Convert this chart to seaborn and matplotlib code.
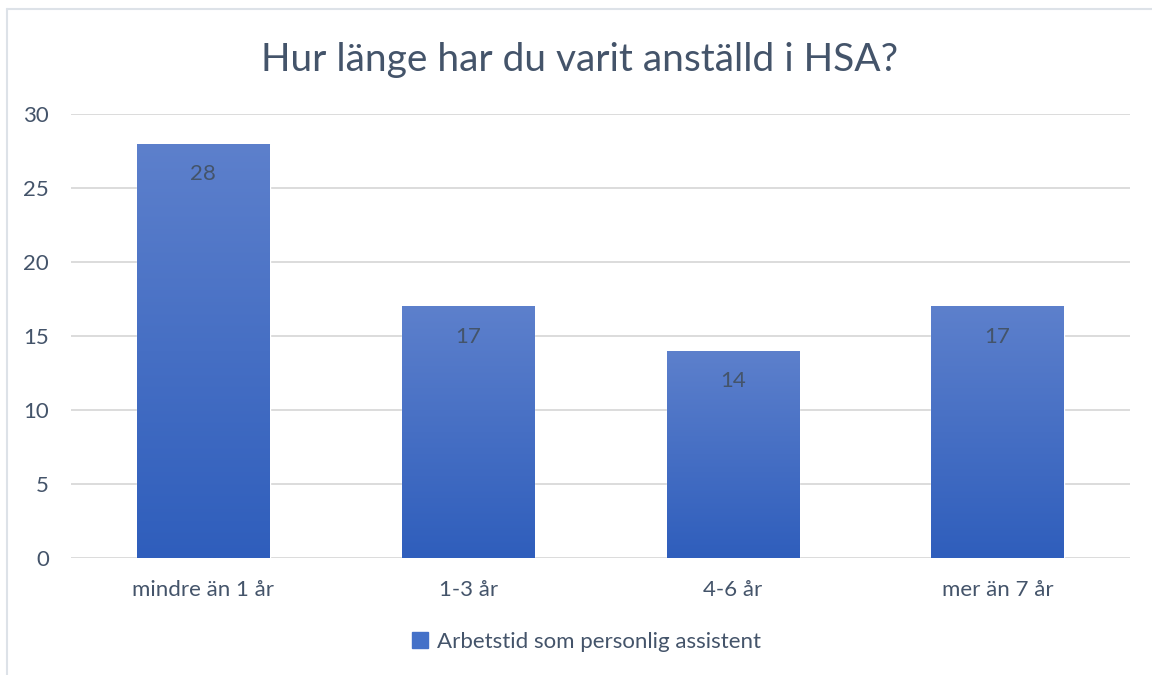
"""
Bar chart: how long respondents have been employed at HSA.

Writes: out.png
"""

import matplotlib.pyplot as plt
import numpy as np
import pandas as pd
import seaborn as sns
from matplotlib.colors import LinearSegmentedColormap
from matplotlib.patches import Rectangle

TITLE = "Hur länge har du varit anställd i HSA?"
SERIES = "Arbetstid som personlig assistent"
CATEGORIES = ["mindre än 1 år", "1-3 år", "4-6 år", "mer än 7 år"]
VALUES = [28, 17, 14, 17]
Y_TICKS = [0, 5, 10, 15, 20, 25, 30]

TEXT = "#44546A"
GRID = "#D9D9D9"
TOP_BLUE = "#5D80CC"
BOTTOM_BLUE = "#2F5EBC"

sns.set_theme(style="white")
plt.rcParams["font.family"] = ["Lato", "DejaVu Sans"]


def main() -> None:
    df = pd.DataFrame({"category": CATEGORIES, "value": VALUES})

    fig = plt.figure(figsize=(11.52, 6.75), dpi=100)
    ax = fig.add_axes([71 / 1152, 1 - 558 / 675, (1130 - 71) / 1152, (558 - 114) / 675])

    sns.barplot(data=df, x="category", y="value", color=BOTTOM_BLUE,
                width=0.5, saturation=1, ax=ax, zorder=2)

    # vertical gradient fill clipped to each bar
    cmap = LinearSegmentedColormap.from_list("bar", [BOTTOM_BLUE, TOP_BLUE])
    grad = np.linspace(0, 1, 256).reshape(-1, 1)
    for bar in ax.patches:
        x0, y0 = bar.get_x(), bar.get_y()
        w, h = bar.get_width(), bar.get_height()
        im = ax.imshow(grad, cmap=cmap, origin="lower", aspect="auto",
                       extent=(x0, x0 + w, y0, y0 + h), zorder=3)
        im.set_clip_path(bar)
    ax.set_xlim(-0.5, len(CATEGORIES) - 0.5)
    ax.set_ylim(0, 30)

    ax.bar_label(ax.containers[0], labels=[str(v) for v in VALUES],
                 padding=-29, fontsize=16, color=TEXT, zorder=4)

    ax.set_yticks(Y_TICKS)
    ax.yaxis.grid(True, color=GRID, linewidth=1.3, zorder=0)
    ax.set_axisbelow(True)
    for side in ax.spines:
        ax.spines[side].set_visible(False)
    ax.tick_params(axis="both", length=0, labelsize=16, labelcolor=TEXT)
    ax.tick_params(axis="y", pad=16)
    ax.tick_params(axis="x", pad=16)
    ax.set_xlabel("")
    ax.set_ylabel("")

    fig.text(0.503, 1 - 60 / 675, TITLE, ha="center", va="center",
             fontsize=28, color=TEXT)

    handle = Rectangle((0, 0), 1, 1, color="#4471C8")
    fig.legend([handle], [SERIES], loc="center", bbox_to_anchor=(0.509, 1 - 642 / 675),
               frameon=False, fontsize=16, labelcolor=TEXT,
               handlelength=0.7, handleheight=0.7, handletextpad=0.4)

    # chart-area border (left and top edges visible in the crop)
    fig.add_artist(plt.Line2D([7 / 1152, 7 / 1152], [0, 1 - 9 / 675],
                              color="#DDE2E8", linewidth=1.5))
    fig.add_artist(plt.Line2D([7 / 1152, 1], [1 - 9 / 675, 1 - 9 / 675],
                              color="#DDE2E8", linewidth=1.5))

    fig.savefig("out.png", dpi=100)


if __name__ == "__main__":
    main()
